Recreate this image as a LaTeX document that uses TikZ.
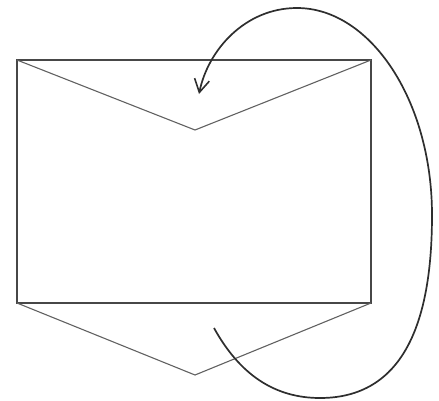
\documentclass[tikz,border=0pt]{standalone}
\usetikzlibrary{arrows.meta}
\begin{document}
\begin{tikzpicture}[x=1pt,y=-1pt,
  edge/.style={draw=black!72,line width=1.7pt},
  flap/.style={draw=black!62,line width=1.1pt,line join=round},
  curve/.style={draw=black!82,line width=1.7pt,-{Straight Barb[length=13pt,width=15pt,line width=1.6pt]}}]
\useasboundingbox (0,0) rectangle (439,400);
\coordinate (tl) at (17,60);
\coordinate (tr) at (371,60);
\coordinate (bl) at (17,303);
\coordinate (br) at (371,303);
\coordinate (vt) at (195,130);
\coordinate (vb) at (195,375);
\coordinate (cs) at (214,328);
\coordinate (cb) at (320,398);
\coordinate (cr) at (432,215);
\coordinate (ct) at (297,8);
\coordinate (ce) at (199,94);
\draw[edge] (tl) rectangle (br);
\draw[flap] (tl) -- (vt) -- (tr);
\draw[flap] (bl) -- (vb) -- (br);
\draw[curve] (cs) .. controls (240,375) and (275,398) .. (cb)
  .. controls (410,398) and (432,310) .. (cr)
  .. controls (432,100) and (370,8) .. (ct)
  .. controls (245,8) and (208,50) .. (ce);
\end{tikzpicture}
\end{document}
